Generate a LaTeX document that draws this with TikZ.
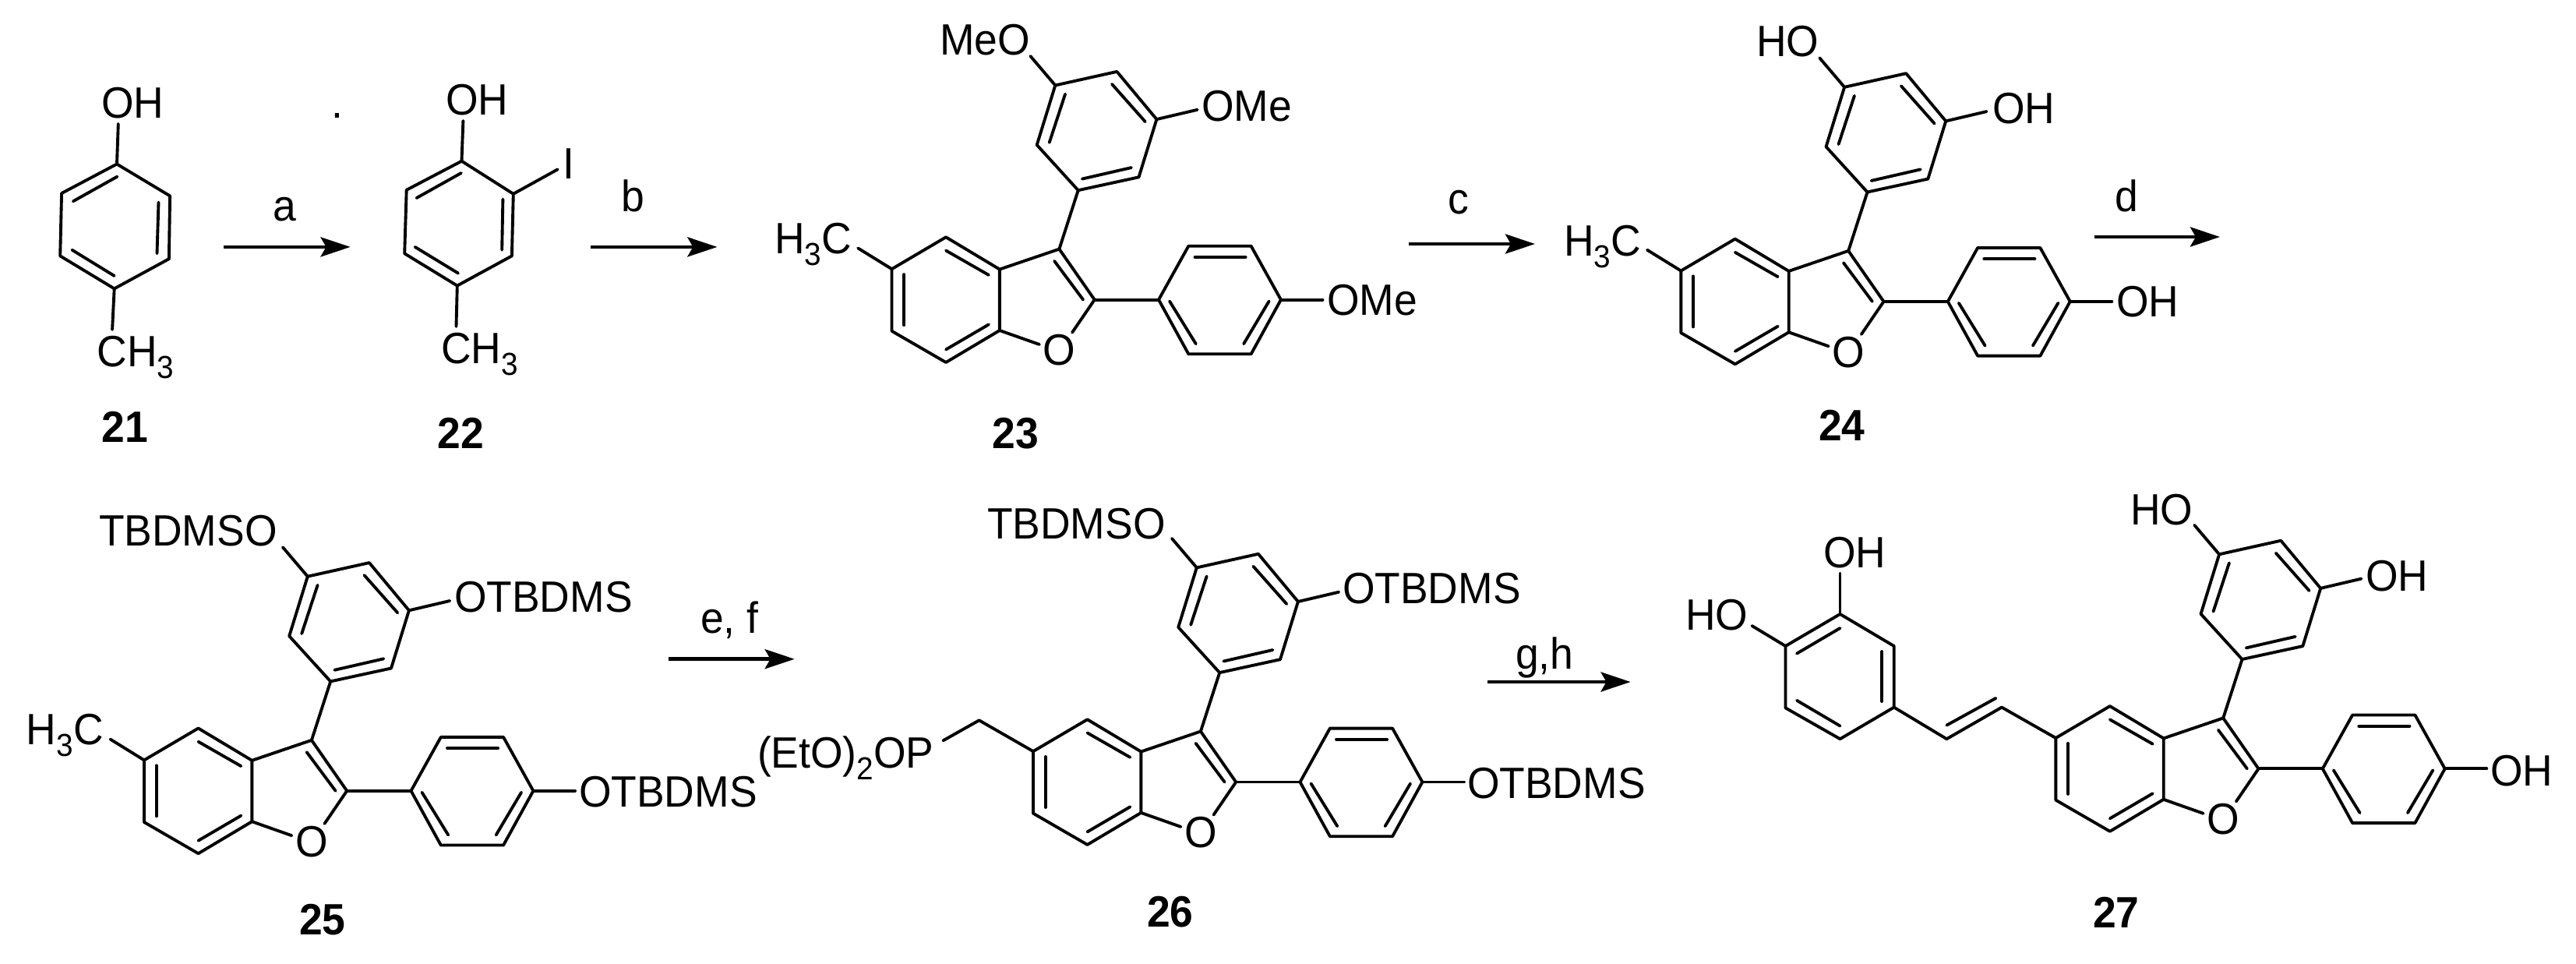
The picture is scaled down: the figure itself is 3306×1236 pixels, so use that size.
\documentclass[tikz,border=0pt]{standalone}
\usepackage{fontspec}
\setmainfont[FakeStretch=0.95]{Liberation Sans}
\usetikzlibrary{arrows.meta}
\newcommand{\subn}[1]{\raisebox{-0.27em}{\fontsize{11.6}{11.6}\selectfont #1}}
\tikzset{
  bond/.style={line width=1.1pt,line cap=round,line join=round,black},
  rxn/.style={line width=1.35pt,black,-{Stealth[length=0.38cm,width=0.25cm,inset=0.07cm]}},
  lbl/.style={anchor=base west,inner sep=0pt,outer sep=0pt,font=\fontsize{16}{18}\selectfont},
  cpd/.style={anchor=base west,inner sep=0pt,outer sep=0pt,font=\fontsize{16}{18}\selectfont\bfseries}
}
% benzofuran core with 3-aryl and 2-aryl rings; #1 prefix, (#2,#3) position of C5
\newcommand{\arylcore}[3]{%
\begin{scope}[shift={(#2,#3)}]
  \coordinate (#1a) at (209.8,-235.7);
  \coordinate (#1b) at (288.9,-253.3);
  \coordinate (#1c) at (339.9,-192.1);
  \coordinate (#1d) at (317,-117.9);
  \coordinate (#1e) at (239.2,-101);
  \coordinate (#1f) at (186.2,-159.2);
  \coordinate (#1ao) at (177.9,-273.2);
  \coordinate (#1co) at (392.2,-204.4);
  \coordinate (#1g) at (214.9,-25.6);
  \coordinate (#1h) at (138.4,0.4);
  \coordinate (#1i) at (69.5,-40.9);
  \coordinate (#1j) at (0,0);
  \coordinate (#1k) at (0,79.6);
  \coordinate (#1l) at (69.5,119.8);
  \coordinate (#1m) at (138.4,78.8);
  \coordinate (#1n) at (260.2,39.4);
  \coordinate (#1o1) at (231.5,81.5);
  \coordinate (#1o2) at (189.4,96.8);
  \coordinate (#1p) at (342.5,39.4);
  \coordinate (#1q) at (380.8,-29.5);
  \coordinate (#1r) at (461.1,-29.5);
  \coordinate (#1s) at (499.4,39.4);
  \coordinate (#1t) at (461.1,109.1);
  \coordinate (#1u) at (380.8,109.1);
  \coordinate (#1so) at (553,39.4);
  \node[lbl] (#1O) at (194,123.6) {O};
  \draw[bond] (#1a)--(#1b)--(#1c)--(#1d)--(#1e)--(#1f)--cycle;
  \draw[bond] (222.6,-224.6)--(202.2,-162.3);
  \draw[bond] (282.5,-237.3)--(325.3,-189);
  \draw[bond] (244.3,-115.6)--(307.4,-130.1);
  \draw[bond] (#1a)--(#1ao);
  \draw[bond] (#1c)--(#1co);
  \draw[bond] (#1e)--(#1g);
  \draw[bond] (#1g)--(#1h)--(#1i)--(#1j)--(#1k)--(#1l)--(#1m)--(#1h);
  \draw[bond] (#1g)--(#1n)--(#1o1);
  \draw[bond] (#1m)--(#1o2);
  \draw[bond] (69.5,-23.7)--(124.4,7.7);
  \draw[bond] (15.9,6.9)--(15.9,71.9);
  \draw[bond] (69.5,103.3)--(124.4,71.2);
  \draw[bond] (208.6,-10.3)--(245.6,39.4);
  \draw[bond] (#1n)--(#1p);
  \draw[bond] (#1p)--(#1q)--(#1r)--(#1s)--(#1t)--(#1u)--cycle;
  \draw[bond] (389,-15.3)--(454.1,-15.3);
  \draw[bond] (356.5,41.3)--(390.3,96.1);
  \draw[bond] (484.1,41.3)--(451.6,96.1);
  \draw[bond] (#1s)--(#1so);
\end{scope}}
\begin{document}
\begin{tikzpicture}[x=0.01cm,y=-0.01cm]
\useasboundingbox (0,0) rectangle (3306,1236);
\fill[white] (0,0) rectangle (3306,1236);

% 21
\coordinate (Aa) at (150,210.5);
\coordinate (Ab) at (218.1,251.4);
\coordinate (Ac) at (216.9,332.2);
\coordinate (Ad) at (146.7,370.4);
\coordinate (Ae) at (77.2,328.4);
\coordinate (Af) at (79.1,248);
\coordinate (Aoh) at (151.8,158.8);
\coordinate (Ame) at (144.1,422.9);
\draw[bond] (Aa)--(Ab)--(Ac)--(Ad)--(Ae)--(Af)--cycle;
\draw[bond] (93.8,258.3)--(150.5,226.6);
\draw[bond] (203.5,259.5)--(201.5,325.3);
\draw[bond] (92.5,320.7)--(146.7,354);
\draw[bond] (Aa)--(Aoh);
\draw[bond] (Ad)--(Ame);
\node[lbl] (Aoh1) at (130,151.2) {OH};
\node[lbl] (Ach3) at (124.5,470) {CH\subn{3}};
\node[cpd] (c21) at (130.7,567.5) {21};

% 22
\coordinate (Ba) at (592.5,206.7);
\coordinate (Bb) at (658.8,248.8);
\coordinate (Bc) at (656.9,328.4);
\coordinate (Bd) at (586.8,366.6);
\coordinate (Be) at (519.2,325.3);
\coordinate (Bf) at (521.7,243.8);
\coordinate (Boh) at (594.4,155);
\coordinate (Bi) at (715.6,217.4);
\coordinate (Bme) at (585.5,419);
\draw[bond] (Ba)--(Bb)--(Bc)--(Bd)--(Be)--(Bf)--cycle;
\draw[bond] (534.5,254.1)--(591.9,222);
\draw[bond] (645.4,255.6)--(644.2,320.7);
\draw[bond] (532.6,316.9)--(588,350.6);
\draw[bond] (Ba)--(Boh);
\draw[bond] (Bb)--(Bi);
\draw[bond] (Bd)--(Bme);
\node[lbl] (Boh1) at (572,147.3) {OH};
\node[lbl] (Bi1) at (722.6,229.6) {I};
\node[lbl] (Bch3) at (566,466.1) {CH\subn{3}};
\node[cpd] (c22) at (561.3,575.2) {22};
\node[lbl] (dot) at (425,151) {.};

% arrows a-d
\coordinate (ra1) at (287,316.9); \coordinate (ra2) at (449.6,316.9);
\draw[rxn] (ra1)--(ra2);
\node[lbl] (la) at (350.8,283.2) {a};
\coordinate (rb1) at (758.3,316.9); \coordinate (rb2) at (920.4,316.9);
\draw[rxn] (rb1)--(rb2);
\node[lbl] (lb) at (797,271) {b};
\coordinate (rc1) at (1808,313); \coordinate (rc2) at (1970,313);
\draw[rxn] (rc1)--(rc2);
\node[lbl] (lc) at (1858,274.8) {c};
\coordinate (rd1) at (2688,304); \coordinate (rd2) at (2849,304);
\draw[rxn] (rd1)--(rd2);
\node[lbl] (ld) at (2714,271) {d};

% 23
\arylcore{C}{1144.5}{345.2}
\coordinate (Cm) at (1101.1,318.4);
\draw[bond] (Cj)--(Cm);
\node[lbl] (Cl1) at (1206,70.8) {MeO};
\node[lbl] (Cl2) at (1542,155) {OMe};
\node[lbl] (Cl3) at (994,325.3) {H\subn{3}C};
\node[lbl] (Cl4) at (1703,404.5) {OMe};
\node[cpd] (c23) at (1273.4,575.2) {23};

% 24
\arylcore{D}{2157.3}{347.5}
\coordinate (Dm) at (2113.9,320.7);
\draw[bond] (Dj)--(Dm);
\node[lbl] (Dl1) at (2254,72.7) {HO};
\node[lbl] (Dl2) at (2557,158) {OH};
\node[lbl] (Dl3) at (2007,328.4) {H\subn{3}C};
\node[lbl] (Dl4) at (2716,406.8) {OH};
\node[cpd] (c24) at (2334,565.6) {24};

% 25
\arylcore{E}{185}{975.4}
\coordinate (Em) at (141.6,948.6);
\draw[bond] (Ej)--(Em);
\node[lbl] (El1) at (127,700.5) {TBDMSO};
\node[lbl] (El2) at (583,785) {OTBDMS};
\node[lbl] (El3) at (34,955.3) {H\subn{3}C};
\node[lbl] (El4) at (743,1035) {OTBDMS};
\node[cpd] (c25) at (384,1199) {25};

% arrow e,f
\coordinate (re1) at (858,845.7); \coordinate (re2) at (1019.7,845.7);
\draw[rxn] (re1)--(re2);
\node[lbl] (le) at (899,812) {e, f};

% 26
\arylcore{F}{1326}{964.1}
\coordinate (Fch) at (1256.6,924.3);
\coordinate (Fp) at (1210.4,950.3);
\draw[bond] (Fj)--(Fch)--(Fp);
\node[lbl] (Fl1) at (1267,691) {TBDMSO};
\node[lbl] (Fl2) at (1723,774.6) {OTBDMS};
\node[lbl] (Fl3) at (972,985) {(EtO)\subn{2}OP};
\node[lbl] (Fl4) at (1883,1024.3) {OTBDMS};
\node[cpd] (c26) at (1472,1189) {26};

% arrow g,h
\coordinate (rg1) at (1909,875); \coordinate (rg2) at (2092.6,875);
\draw[rxn] (rg1)--(rg2);
\node[lbl] (lg) at (1945,858) {g,h};

% 27
\arylcore{G}{2638.3}{947}
\coordinate (Gv1) at (2569,907.6);
\coordinate (Gv2) at (2498.3,948.2);
\coordinate (Ga1) at (2430.7,907.6);
\coordinate (Ga2) at (2430.7,829);
\coordinate (Ga3) at (2361.5,788);
\coordinate (Ga4) at (2291.5,829);
\coordinate (Ga5) at (2291.5,908.4);
\coordinate (Ga6) at (2361.5,948.2);
\coordinate (Goh1) at (2361.5,736);
\coordinate (Goh2) at (2248.4,803);
\draw[bond] (Gj)--(Gv1)--(Gv2)--(Ga1);
\draw[bond] (2498.3,930.6)--(2561.4,895.9);
\draw[bond] (Ga1)--(Ga2)--(Ga3)--(Ga4)--(Ga5)--(Ga6)--cycle;
\draw[bond] (2306,838.6)--(2361.5,806);
\draw[bond] (2415.3,836)--(2415.3,900);
\draw[bond] (2306,898.8)--(2361.5,931.5);
\draw[bond] (Ga3)--(Goh1);
\draw[bond] (Ga4)--(Goh2);
\node[lbl] (Gl1) at (2340,728.5) {OH};
\node[lbl] (Gl2) at (2163,808) {HO};
\node[lbl] (Gl3) at (2734,673.7) {HO};
\node[lbl] (Gl4) at (3036,758.7) {OH};
\node[lbl] (Gl5) at (3196,1008) {OH};
\node[cpd] (c27) at (2686,1190) {27};
\end{tikzpicture}
\end{document}
